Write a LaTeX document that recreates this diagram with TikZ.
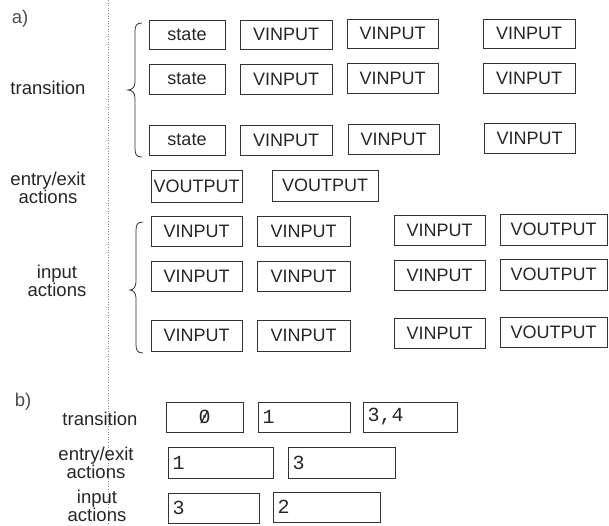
\documentclass[tikz,border=0pt]{standalone}
\usepackage{fontspec}
\setmainfont{Liberation Sans}
\newfontfamily\digitfont{Liberation Mono}
\newcommand\mybox[6]{\node[bx, minimum width={(#4-#2)*1pt}, minimum height={(#5-#3)*1pt}] (#1) at ({(#2+#4)/2},{(#3+#5)/2}) {#6};}
\newcommand\myboxl[6]{\pgfmathsetmacro\mytw{#4-#2-9}\node[bx, dig, text width=\mytw pt, inner xsep=4.5pt, align=left, minimum height={(#5-#3)*1pt}] (#1) at ({(#2+#4)/2},{(#3+#5)/2}) {#6};}
\newcommand\slzero{\ooalign{0\cr\hidewidth\raisebox{0.05ex}{\scalebox{0.85}{/}}\hidewidth}}
\begin{document}
\begin{tikzpicture}[x=1pt,y=-1pt,
  bx/.style={draw=black!80, line width=0.8pt, inner sep=0pt, font=\fontsize{18}{18}\selectfont, text=black!85},
  dig/.style={font=\digitfont\fontsize{20}{20}\selectfont},
  lbl/.style={font=\fontsize{18.5}{17.5}\selectfont, align=center, text=black!85, inner sep=0pt},
  brc/.style={draw=black!80, line width=0.8pt},
  fold/.style={draw=black!45, dotted, line width=0.6pt}]
\fill[white] (0,0) rectangle (609,525);
\useasboundingbox (0,0) rectangle (609,525);
% fold line
\coordinate (ft) at (108,0);
\coordinate (fb) at (108,525);
\draw[fold] (ft) -- (fb);
% section labels
\node[lbl, text=black!70] (la) at (20,19) {a)};
\node[lbl, text=black!70] (lb) at (23,402) {b)};
% ---- a) transition
\node[lbl] (at) at (48,88) {transition};
\draw[brc] (142,23) .. controls (136,23) and (135,26) .. (135,32) -- (135,82) .. controls (135,87) and (132,90) .. (128,90) .. controls (132,90) and (135,93) .. (135,98) -- (135,148) .. controls (135,154) and (136,157) .. (142,157);
\mybox{t11}{149}{20}{225}{49}{state}
\mybox{t12}{240}{20}{332}{49}{VINPUT}
\mybox{t13}{347}{19}{438}{48}{VINPUT}
\mybox{t14}{483}{19}{575}{48}{VINPUT}
\mybox{t21}{149}{64}{225}{94}{state}
\mybox{t22}{240}{64}{332}{94}{VINPUT}
\mybox{t23}{347}{63}{438}{93}{VINPUT}
\mybox{t24}{483}{63}{575}{93}{VINPUT}
\mybox{t31}{149}{125}{225}{155}{state}
\mybox{t32}{240}{125}{332}{155}{VINPUT}
\mybox{t33}{348}{124}{439}{154}{VINPUT}
\mybox{t34}{484}{123}{575}{153}{VINPUT}
% ---- a) entry/exit
\node[lbl] (ae) at (48,188) {entry/exit\\actions};
\mybox{e11}{151}{170}{242}{202}{VOUTPUT}
\mybox{e12}{272}{170}{378}{201}{VOUTPUT}
% ---- a) input actions
\node[lbl] (ai) at (57,281) {input\\actions};
\draw[brc] (143,222) .. controls (137,222) and (136,225) .. (136,231) -- (136,282) .. controls (136,287) and (133,290) .. (130,290) .. controls (133,290) and (136,293) .. (136,298) -- (136,344) .. controls (136,350) and (137,353) .. (143,353);
\mybox{i11}{151}{216}{242}{246}{VINPUT}
\mybox{i12}{257}{216}{350}{246}{VINPUT}
\mybox{i13}{394}{215}{485}{245}{VINPUT}
\mybox{i14}{500}{214}{607}{245}{VOUTPUT}
\mybox{i21}{151}{261}{242}{291}{VINPUT}
\mybox{i22}{257}{261}{350}{291}{VINPUT}
\mybox{i23}{394}{260}{485}{290}{VINPUT}
\mybox{i24}{500}{259}{607}{290}{VOUTPUT}
\mybox{i31}{151}{320}{242}{351}{VINPUT}
\mybox{i32}{257}{320}{350}{351}{VINPUT}
\mybox{i33}{394}{318}{485}{348}{VINPUT}
\mybox{i34}{500}{317}{607}{347}{VOUTPUT}
% ---- b)
\node[lbl] (bt) at (100,419) {transition};
\node[lbl] (be) at (96,463) {entry/exit\\actions};
\node[lbl] (bi) at (97,506) {input\\actions};
\node[bx, dig, minimum width=77pt, minimum height=30pt] (bt1) at (204.5,417) {\slzero};
\myboxl{bt2}{258}{402}{350}{432}{1}
\myboxl{bt3}{363}{402}{457}{432}{3,4}
\myboxl{be1}{168}{447}{273}{478}{1}
\myboxl{be2}{288}{447}{395}{478}{3}
\myboxl{bi1}{168}{493}{259}{523}{3}
\myboxl{bi2}{273}{492}{380}{522}{2}
\end{tikzpicture}
\end{document}
